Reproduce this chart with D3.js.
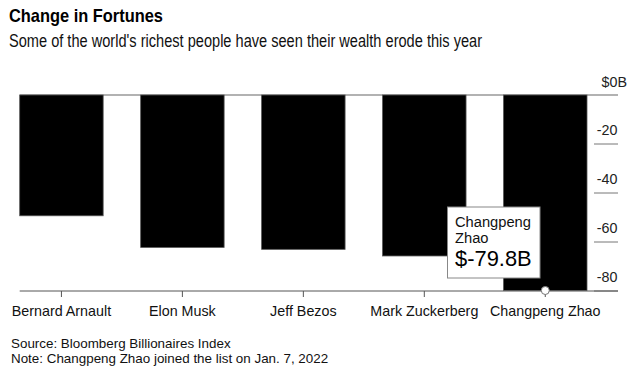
<!DOCTYPE html>
<html>
<head>
<meta charset="utf-8">
<script src="https://cdn.jsdelivr.net/npm/d3@7"></script>
<style>
  body { margin: 0; background: #fff; }
  #container { width: 637px; height: 374px; }
  text { font-family: "Liberation Sans", Arial, Helvetica, sans-serif; }
</style>
</head>
<body>
<div id="container"></div>
<script>
// 数据
const names = ["Bernard Arnault", "Elon Musk", "Jeff Bezos", "Mark Zuckerberg", "Changpeng Zhao"];
const changes = [-49.3, -62.2, -63.0, -65.7, -79.8];
const yTicks = [0, -20, -40, -60, -80];
const highlight = "Changpeng Zhao";

const width = 637;
const height = 374;
const marginTop = 95;
const marginBottom = 83; // 底部 291
const marginLeft = 19.7;
const plotRight = 587;
const axisRight = 618;

const svg = d3.select("#container")
  .append("svg")
  .attr("width", width)
  .attr("height", height)
  .attr("viewBox", [0, 0, width, height]);

// 比例尺
const x = d3.scaleBand()
  .domain(names)
  .range([marginLeft, plotRight])
  .paddingInner(0.31)
  .paddingOuter(0);

const y = d3.scaleLinear()
  .domain([0, -80])
  .range([marginTop, height - marginBottom]);

// 标题（原图字体偏窄，用 textLength 压一下宽度）
svg.append("text")
  .attr("x", 9).attr("y", 22)
  .attr("font-size", 18.5).attr("font-weight", "bold")
  .attr("fill", "#000")
  .attr("textLength", 154).attr("lengthAdjust", "spacingAndGlyphs")
  .text("Change in Fortunes");

svg.append("text")
  .attr("x", 9).attr("y", 46.5)
  .attr("font-size", 17.5)
  .attr("fill", "#111")
  .attr("textLength", 473).attr("lengthAdjust", "spacingAndGlyphs")
  .text("Some of the world's richest people have seen their wealth erode this year");

// 纵轴刻度（只在右侧画短线）
const yAxis = svg.append("g");
yAxis.selectAll("line")
  .data(yTicks.filter(d => d !== 0))
  .join("line")
  .attr("x1", 594).attr("x2", axisRight)
  .attr("y1", d => y(d)).attr("y2", d => y(d))
  .attr("stroke", "#777").attr("stroke-width", 1);

yAxis.selectAll("text")
  .data(yTicks)
  .join("text")
  .attr("x", 617.5)
  .attr("y", d => y(d) - (d === 0 ? 8.5 : 9))
  .attr("text-anchor", "end")
  .attr("font-size", 14.3)
  .attr("fill", "#222")
  .text(d => d === 0 ? "$0" : d);

// "$0B" 的后缀 B
svg.append("text")
  .attr("x", 617.5).attr("y", y(0) - 8.5)
  .attr("font-size", 14.3).attr("fill", "#222")
  .text("B");

// 零线
svg.append("line")
  .attr("x1", marginLeft).attr("x2", axisRight)
  .attr("y1", y(0)).attr("y2", y(0))
  .attr("stroke", "#999").attr("stroke-width", 1.5);

// 柱子
svg.append("g")
  .selectAll("rect")
  .data(names)
  .join("rect")
  .attr("x", d => x(d))
  .attr("y", y(0))
  .attr("width", x.bandwidth())
  .attr("height", (d, i) => y(changes[i]) - y(0))
  .attr("fill", "#000")
  .attr("stroke", "#555")
  .attr("stroke-width", 0.8);

// 横轴
svg.append("g")
  .attr("transform", `translate(0,${y(-80)})`)
  .call(d3.axisBottom(x).tickSize(6).tickSizeOuter(0))
  .call(g => g.select(".domain")
    .attr("d", `M${marginLeft},0H${axisRight}`)
    .attr("stroke", "#555"))
  .call(g => g.selectAll(".tick line").attr("stroke", "#555"))
  .call(g => g.selectAll(".tick text")
    .attr("y", 14.5)
    .attr("dy", "0.71em")
    .attr("font-size", 14.3)
    .attr("fill", "#111")
    .attr("font-family", "'Liberation Sans', Arial, sans-serif"));

// 提示框
const hi = names.indexOf(highlight);
const cx = x(highlight) + x.bandwidth() / 2;
const cy = y(changes[hi]);

svg.append("circle")
  .attr("cx", cx).attr("cy", cy).attr("r", 4)
  .attr("fill", "#fff").attr("stroke", "#777").attr("stroke-width", 1);

const tip = svg.append("g").attr("transform", `translate(447.5,207)`);
tip.append("rect")
  .attr("width", 92.5).attr("height", 71)
  .attr("fill", "#fff").attr("stroke", "#888").attr("stroke-width", 1);
tip.append("text").attr("x", 7.5).attr("y", 20.3)
  .attr("font-size", 14.7).attr("fill", "#111").text("Changpeng");
tip.append("text").attr("x", 7.5).attr("y", 36.3)
  .attr("font-size", 14.7).attr("fill", "#111").text("Zhao");
tip.append("text").attr("x", 7.5).attr("y", 58.7)
  .attr("font-size", 21.9).attr("fill", "#000")
  .text(`$${changes[hi]}B`);

// 脚注
svg.append("text")
  .attr("x", 11).attr("y", 347.5)
  .attr("font-size", 13.4).attr("fill", "#111")
  .text("Source: Bloomberg Billionaires Index");
svg.append("text")
  .attr("x", 11).attr("y", 362.5)
  .attr("font-size", 13.4).attr("fill", "#111")
  .text("Note: Changpeng Zhao joined the list on Jan. 7, 2022");
</script>
</body>
</html>
